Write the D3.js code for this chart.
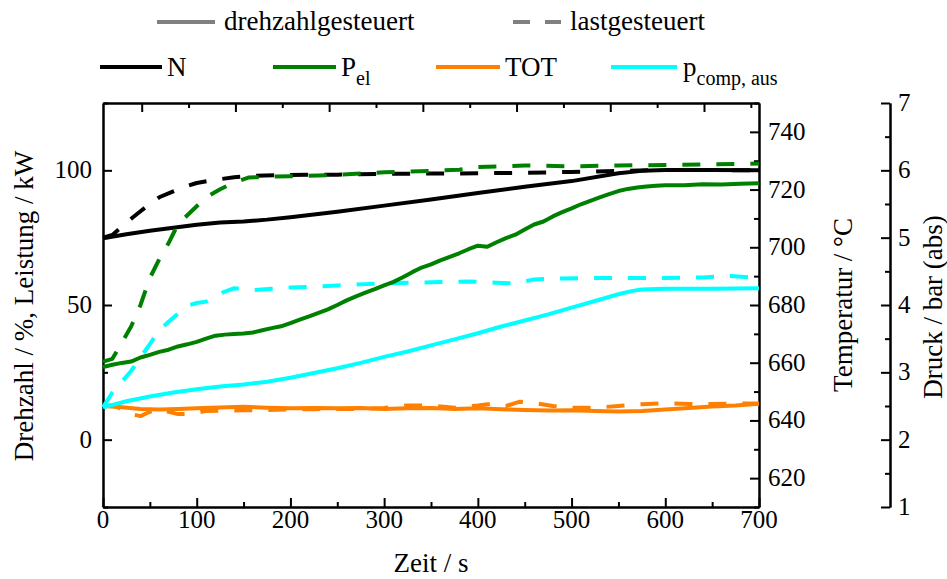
<!DOCTYPE html>
<html>
<head>
<meta charset="utf-8">
<script src="https://cdn.jsdelivr.net/npm/d3@7"></script>
<style>body{margin:0;background:#fff}</style>
</head>
<body>
<svg id="chart" width="947" height="579"></svg>
<script>
// Messdaten, Zeit in s
// Drehzahl N in %
const zeitN_dreh = [0, 25, 50, 75, 100, 125, 150, 175, 200, 250, 300, 350, 400, 450, 500, 550, 575, 600, 650, 700];
const N_dreh     = [74.8, 76.3, 77.6, 78.7, 79.8, 80.6, 81.0, 81.7, 82.6, 84.6, 86.9, 89.2, 91.6, 93.9, 96.0, 98.9, 99.8, 100.1, 100.1, 100.0];
const zeitN_last = [0, 10, 20, 30, 40, 50, 60, 75, 90, 100, 120, 140, 160, 200, 250, 300, 350, 400, 450, 500, 550, 600, 650, 700];
const N_last     = [75.0, 76.0, 79.0, 82.0, 84.8, 87.5, 90.0, 92.2, 94.2, 95.3, 96.5, 97.4, 98.0, 98.3, 98.4, 98.7, 98.8, 98.9, 99.1, 99.4, 99.8, 100.1, 100.1, 100.0];

// Elektrische Leistung P_el in kW
const zeitP_dreh = [0, 10, 20, 30, 40, 50, 60, 70, 80, 90, 100, 110, 120, 130, 140, 150, 160, 170, 180, 190, 200, 210, 220, 230, 240, 250, 260, 270, 280, 290, 300, 310, 320, 330, 340, 350, 360, 370, 380, 390, 400, 410, 420, 430, 440, 450, 460, 470, 480, 490, 500, 510, 520, 530, 540, 550, 560, 570, 580, 590, 600, 620, 640, 660, 680, 700];
const P_dreh     = [27.0, 27.8, 28.5, 29.0, 30.5, 31.5, 32.6, 33.4, 34.6, 35.4, 36.3, 37.5, 38.6, 39.0, 39.2, 39.4, 39.8, 40.6, 41.4, 42.1, 43.3, 44.6, 45.8, 47.1, 48.4, 50.0, 51.7, 53.2, 54.6, 55.9, 57.3, 58.6, 60.3, 62.2, 63.9, 65.1, 66.6, 67.9, 69.2, 70.7, 72.0, 71.6, 73.3, 74.8, 76.1, 78.0, 79.9, 81.0, 82.9, 84.5, 85.9, 87.4, 88.7, 90.0, 91.2, 92.3, 93.1, 93.6, 94.0, 94.3, 94.5, 94.5, 94.8, 94.7, 95.0, 95.2];
const zeitP_last = [0, 10, 20, 30, 40, 50, 60, 70, 80, 95, 110, 125, 140, 155, 175, 200, 250, 300, 350, 380, 400, 450, 500, 550, 600, 650, 700];
const P_last     = [29.0, 30.0, 36.0, 42.0, 50.0, 60.0, 67.0, 73.0, 80.0, 85.0, 90.0, 93.0, 95.5, 97.3, 97.6, 97.8, 98.3, 99.3, 99.8, 100.2, 101.2, 101.8, 101.5, 101.8, 102.0, 102.2, 102.5];

// Turbinenaustrittstemperatur TOT in Grad C
const zeitT_dreh = [0, 20, 40, 60, 80, 100, 125, 150, 175, 200, 225, 250, 275, 300, 325, 350, 375, 400, 425, 450, 475, 500, 525, 550, 575, 600, 625, 650, 675, 700];
const TOT_dreh   = [645.0, 644.6, 644.0, 643.8, 644.0, 644.2, 644.5, 644.7, 644.4, 644.2, 644.3, 644.2, 644.3, 644.0, 644.2, 644.3, 644.0, 644.2, 643.9, 643.6, 643.4, 643.5, 643.3, 643.1, 643.3, 643.8, 644.3, 644.8, 645.2, 645.8];
const zeitT_last = [0, 10, 20, 30, 40, 50, 60, 70, 80, 95, 110, 130, 150, 175, 200, 225, 250, 275, 300, 325, 350, 375, 400, 415, 430, 445, 460, 480, 500, 525, 550, 575, 600, 625, 650, 675, 700];
const TOT_last   = [645.0, 645.3, 644.0, 642.2, 641.5, 643.0, 644.0, 643.0, 642.2, 642.3, 643.3, 643.4, 643.5, 643.6, 643.8, 643.9, 644.0, 644.0, 644.3, 645.2, 645.2, 644.4, 645.2, 645.8, 645.0, 646.5, 646.0, 645.0, 644.4, 644.4, 645.0, 645.6, 646.0, 645.7, 645.7, 645.8, 645.9];

// Verdichteraustrittsdruck p_comp,aus in bar (abs)
const zeitp_dreh = [0, 25, 50, 75, 100, 125, 150, 175, 200, 225, 250, 275, 300, 325, 350, 375, 400, 425, 450, 475, 500, 525, 550, 565, 575, 600, 650, 700];
const p_dreh     = [2.48, 2.57, 2.64, 2.70, 2.75, 2.79, 2.82, 2.86, 2.92, 2.99, 3.06, 3.14, 3.23, 3.31, 3.40, 3.49, 3.58, 3.68, 3.77, 3.86, 3.96, 4.06, 4.16, 4.21, 4.23, 4.24, 4.24, 4.25];
const zeitp_last = [0, 10, 20, 30, 40, 50, 60, 70, 80, 90, 100, 110, 120, 130, 140, 160, 180, 200, 220, 250, 280, 300, 330, 360, 390, 420, 440, 460, 480, 520, 560, 600, 640, 670, 700];
const p_last     = [2.48, 2.70, 2.86, 3.02, 3.22, 3.42, 3.62, 3.75, 3.87, 3.99, 4.03, 4.05, 4.13, 4.20, 4.25, 4.22, 4.24, 4.26, 4.27, 4.29, 4.31, 4.32, 4.33, 4.34, 4.35, 4.33, 4.32, 4.38, 4.39, 4.40, 4.40, 4.40, 4.41, 4.43, 4.40];

// Achsen-Ticks
const xTicks      = [0, 100, 200, 300, 400, 500, 600, 700];
const xMinorTicks = [50, 150, 250, 350, 450, 550, 650];
const topTicks      = [41.3, 141.3, 241.3, 341.3, 441.3, 541.3, 641.3];
const topMinorTicks = [91.3, 191.3, 291.3, 391.3, 491.3, 591.3, 691.3];
const leftTicks      = [0, 50, 100];
const leftMinorTicks = [-25, 25, 75, 125];
const tempTicks      = [620, 640, 660, 680, 700, 720, 740];
const tempMinorTicks = [610, 630, 650, 670, 690, 710, 730, 750];
const pressTicks      = [1, 2, 3, 4, 5, 6, 7];
const pressMinorTicks = [1.5, 2.5, 3.5, 4.5, 5.5, 6.5];

const colors = { N: "#000000", P: "#008000", TOT: "#ff8000", p: "#00ffff", legend: "#808080" };

const plot = { left: 103, right: 759, top: 103, bottom: 507 };
const pressAxisX = 890;

const svg = d3.select("#chart");

const x  = d3.scaleLinear().domain([0, 700]).range([plot.left, plot.right]);
const yL = d3.scaleLinear().domain([-25, 125]).range([plot.bottom, plot.top]);
const yT = d3.scaleLinear().domain([610, 750]).range([plot.bottom, plot.top]);
const yP = d3.scaleLinear().domain([1, 7]).range([plot.bottom, plot.top]);

const TICK_FONT = 25, TITLE_FONT = 27, LEGEND_FONT = 27, SUB_FONT = 20;

// Schrift je Text direkt setzen
function serifText(parent, size) {
  return parent.append("text")
    .style("font-family", "'Liberation Serif'")
    .style("font-size", size + "px");
}

// Texte zuerst anlegen: Titel und Legende
serifText(svg, TITLE_FONT).attr("transform", `translate(${(plot.left + plot.right) / 2},572)`)
  .attr("text-anchor", "middle").text("Zeit / s");
serifText(svg, TITLE_FONT).attr("transform", "translate(33,306) rotate(-90)")
  .attr("text-anchor", "middle").text("Drehzahl / %, Leistung / kW");
serifText(svg, TITLE_FONT).attr("transform", "translate(852,305) rotate(-90)")
  .attr("text-anchor", "middle").text("Temperatur / \u00B0C");
serifText(svg, TITLE_FONT).attr("transform", "translate(942,307) rotate(-90)")
  .attr("text-anchor", "middle").text("Druck / bar (abs)");

function legendText(xPos, y, main, sub) {
  const t = serifText(svg, LEGEND_FONT).attr("x", xPos).attr("y", y);
  t.append("tspan").text(main);
  if (sub) t.append("tspan").style("font-size", SUB_FONT + "px").attr("dy", 9).text(sub);
}
legendText(224, 30, "drehzahlgesteuert");
legendText(570, 30, "lastgesteuert");
legendText(167, 76, "N");
legendText(341, 76, "P", "el");
legendText(505, 76, "TOT");
legendText(683, 76, "p", "comp, aus");

// Tick-Beschriftungen selbst setzen (Achsen ohne Text)
function tickLabels(values, xf, yf, anchor, dy, fmt) {
  values.forEach(v => {
    serifText(svg, TICK_FONT).attr("x", xf(v)).attr("y", yf(v))
      .attr("text-anchor", anchor).attr("dy", dy).text(fmt(v));
  });
}
tickLabels(xTicks, v => x(v), () => plot.bottom + 3, "middle", "0.71em", d3.format("d"));
tickLabels(leftTicks, () => plot.left - 11, v => yL(v), "end", "0.32em", d3.format("d"));
tickLabels(tempTicks, () => plot.right + 9, v => yT(v), "start", "0.32em", d3.format("d"));
tickLabels(pressTicks, () => pressAxisX + 8, v => yP(v), "start", "0.32em", d3.format("d"));

// Achsenlinien und Ticks
function styleAxis(g) {
  g.selectAll("text").remove();
  g.selectAll("path.domain").attr("stroke", "#000").attr("stroke-width", 2);
  g.selectAll(".tick line").attr("stroke", "#000").attr("stroke-width", 2);
}
function axis(gen, tx, ty, values, size) {
  svg.append("g").attr("transform", `translate(${tx},${ty})`)
    .call(gen.tickValues(values).tickSize(size).tickSizeOuter(0))
    .call(styleAxis);
}
axis(d3.axisBottom(x), 0, plot.bottom, xMinorTicks, -5);
axis(d3.axisBottom(x), 0, plot.bottom, xTicks, -9);
axis(d3.axisTop(x), 0, plot.top, topMinorTicks, -5);
axis(d3.axisTop(x), 0, plot.top, topTicks, -9);
axis(d3.axisLeft(yL), plot.left, 0, leftMinorTicks, -5);
axis(d3.axisLeft(yL), plot.left, 0, leftTicks, -9);
axis(d3.axisRight(yT), plot.right, 0, tempMinorTicks, -5);
axis(d3.axisRight(yT), plot.right, 0, tempTicks, -9);
axis(d3.axisRight(yP), pressAxisX, 0, pressMinorTicks, -5);
axis(d3.axisRight(yP), pressAxisX, 0, pressTicks, -9);

// Kurven
const DASH = "18,16";
function drawSeries(times, values, yScale, color, dashed) {
  const line = d3.line().x((d, i) => x(times[i])).y(d => yScale(d));
  svg.append("path").datum(values)
    .attr("d", line)
    .attr("fill", "none")
    .attr("stroke", color)
    .attr("stroke-width", 4)
    .attr("stroke-linejoin", "round")
    .attr("stroke-dasharray", dashed ? DASH : null);
}
drawSeries(zeitT_last, TOT_last, yT, colors.TOT, true);
drawSeries(zeitT_dreh, TOT_dreh, yT, colors.TOT, false);
drawSeries(zeitp_last, p_last, yP, colors.p, true);
drawSeries(zeitp_dreh, p_dreh, yP, colors.p, false);
drawSeries(zeitP_dreh, P_dreh, yL, colors.P, false);
drawSeries(zeitN_dreh, N_dreh, yL, colors.N, false);
drawSeries(zeitN_last, N_last, yL, colors.N, true);
drawSeries(zeitP_last, P_last, yL, colors.P, true);

// Legendenlinien
function legendLine(x1, x2, y, color, dashed) {
  svg.append("line").attr("x1", x1).attr("x2", x2).attr("y1", y).attr("y2", y)
    .attr("stroke", color).attr("stroke-width", 4)
    .attr("stroke-dasharray", dashed ? "17,15" : null);
}
legendLine(157, 215, 22, colors.legend, false);
legendLine(513, 561, 22, colors.legend, true);
legendLine(100, 162, 67, colors.N, false);
legendLine(273, 336, 67, colors.P, false);
legendLine(436, 500, 67, colors.TOT, false);
legendLine(611, 677, 67, colors.p, false);
</script>
</body>
</html>
